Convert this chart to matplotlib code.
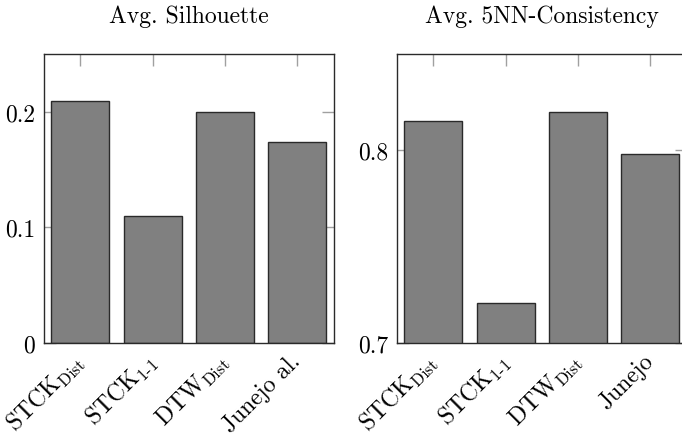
import matplotlib
matplotlib.use("Agg")
import matplotlib.pyplot as plt
from matplotlib.ticker import FormatStrFormatter
from matplotlib.transforms import ScaledTranslation

plt.rcParams.update({
    "font.family": "cmr10",
    "mathtext.fontset": "cm",
    "axes.unicode_minus": False,
    "axes.formatter.use_mathtext": True,
    "font.size": 17,
})

# Average silhouette per method
sil_labels = [r"STCK$_{\text{Dist}}$", r"STCK$_{\text{1-1}}$", r"DTW$_{\text{Dist}}$", "Junejo al."]
sil_values = [0.209, 0.110, 0.200, 0.174]
sil_ticks = [0.0, 0.1, 0.2]

# Average 5-nearest-neighbour consistency per method
nn_labels = [r"STCK$_{\text{Dist}}$", r"STCK$_{\text{1-1}}$", r"DTW$_{\text{Dist}}$", "Junejo"]
nn_values = [0.815, 0.721, 0.820, 0.798]
nn_ticks = [0.7, 0.8]

W, H = 682, 435
fig = plt.figure(figsize=(W / 100, H / 100), dpi=100)

ax_w, ax_h = 289.5 / W, 289 / H
bottom = (H - 344) / H
ax1 = fig.add_axes([44 / W, bottom, ax_w, ax_h])
ax2 = fig.add_axes([397 / W, bottom, ax_w, ax_h])


def draw(ax, labels, values, ticks, ylim, title):
    x = list(range(len(values)))
    ax.bar(x, values, width=0.8, color="#808080", edgecolor="#2a2a2a",
           linewidth=1.0, zorder=2)
    ax.set_axisbelow(True)
    ax.set_xlim(-0.5, len(values) - 0.5)
    ax.set_ylim(*ylim)
    ax.set_xticks(x)
    ax.set_xticklabels(labels, rotation=45, ha="right", va="center",
                       rotation_mode="anchor", fontsize=17)
    # nudge the rotated labels slightly to the right of their ticks
    shift = ScaledTranslation(5 / 100, 0, fig.dpi_scale_trans)
    for lab in ax.get_xticklabels():
        lab.set_transform(lab.get_transform() + shift)
    ax.set_yticks(ticks)
    ax.yaxis.set_major_formatter(FormatStrFormatter("%g"))
    ax.tick_params(axis="both", which="major", direction="in", length=8.5,
                   width=1.0, color="#a0a0a0", top=True, right=True)
    ax.tick_params(axis="y", pad=6.5)
    ax.tick_params(axis="x", pad=10.5)
    for sp in ax.spines.values():
        sp.set_color("#2a2a2a")
        sp.set_linewidth(1.0)
    ax.set_title(title, pad=23, fontsize=17)


draw(ax1, sil_labels, sil_values, sil_ticks, (0.0, 0.25), "Avg. Silhouette")
draw(ax2, nn_labels, nn_values, nn_ticks, (0.7, 0.85), "Avg. 5NN-Consistency")

fig.savefig("out.png", dpi=100)
